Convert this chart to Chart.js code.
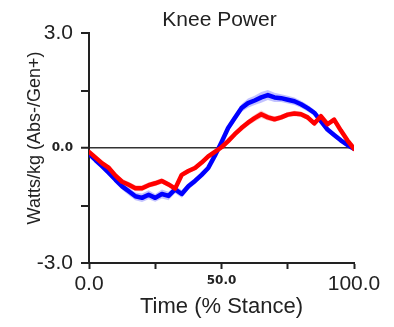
<!DOCTYPE html>
<html>
<head>
<meta charset="utf-8">
<title>Knee Power</title>
<script src="https://cdn.jsdelivr.net/npm/chart.js@4.4.1/dist/chart.umd.min.js"></script>
<style>
  html, body { margin: 0; padding: 0; background: #fff; }
  #wrap { width: 394px; height: 327px; }
</style>
</head>
<body>
<div id="wrap"><canvas id="knee" width="394" height="327"></canvas></div>
<script>
// % stance, sampled every 2.5%
const stance = [0, 2.5, 5, 7.5, 10, 12.5, 15, 17.5, 20, 22.5, 25, 27.5, 30, 32.5, 35, 37.5, 40,
  42.5, 45, 47.5, 50, 52.5, 55, 57.5, 60, 62.5, 65, 67.5, 70, 72.5, 75, 77.5, 80, 82.5, 85,
  87.5, 90, 92.5, 95, 97.5, 100];

// mean knee power, W/kg
const bluePower = [-0.15, -0.32, -0.48, -0.65, -0.83, -1.0, -1.13, -1.26, -1.3, -1.22, -1.3,
  -1.2, -1.25, -1.08, -1.2, -1.0, -0.86, -0.7, -0.52, -0.2, 0.15, 0.52, 0.78, 1.04, 1.17, 1.24,
  1.32, 1.38, 1.32, 1.3, 1.26, 1.22, 1.14, 1.04, 0.92, 0.7, 0.48, 0.34, 0.2, 0.08, -0.02];
const redPower = [-0.1, -0.25, -0.4, -0.52, -0.72, -0.88, -0.96, -1.05, -1.05, -0.97, -0.92,
  -0.86, -0.95, -1.06, -0.7, -0.6, -0.52, -0.38, -0.22, -0.1, 0.02, 0.18, 0.36, 0.52, 0.66, 0.78,
  0.88, 0.8, 0.75, 0.8, 0.87, 0.9, 0.88, 0.8, 0.64, 0.83, 0.62, 0.74, 0.46, 0.2, -0.02];

// spread around each mean (shaded band)
const blueSpread = [0.03, 0.05, 0.06, 0.07, 0.08, 0.09, 0.1, 0.1, 0.11, 0.12, 0.1, 0.12, 0.11,
  0.1, 0.1, 0.09, 0.08, 0.08, 0.07, 0.07, 0.07, 0.08, 0.09, 0.1, 0.12, 0.12, 0.14, 0.13, 0.12,
  0.1, 0.1, 0.1, 0.09, 0.09, 0.08, 0.08, 0.07, 0.06, 0.05, 0.04, 0.02];
const redSpread = [0.04, 0.05, 0.05, 0.06, 0.07, 0.07, 0.08, 0.08, 0.08, 0.07, 0.07, 0.07, 0.07,
  0.07, 0.07, 0.06, 0.06, 0.06, 0.06, 0.06, 0.06, 0.07, 0.07, 0.08, 0.08, 0.09, 0.1, 0.08, 0.07,
  0.07, 0.07, 0.07, 0.07, 0.07, 0.07, 0.07, 0.07, 0.06, 0.05, 0.04, 0.03];

const yTicksLabelled = { "3": "3.0", "0": "0.0", "-3": "-3.0" };
const xTicksLabelled = { "0": "0.0", "50": "50.0", "100": "100.0" };

const chartTitle = "Knee Power";
const yTitle = "Watts/kg (Abs-/Gen+)";

const pts = (vals) => vals.map((v, i) => ({ x: stance[i], y: v }));
const band = (vals, sd, sign) => vals.map((v, i) => ({ x: stance[i], y: v + sign * sd[i] }));

const sans = "'Liberation Sans', Arial, sans-serif";
const bigFont = { family: sans, size: 21 };
const smallFont = { family: "'DejaVu Sans', sans-serif", size: 12, weight: "bold", lineHeight: 1.4 };

const lineDs = (label, data, color, order) => ({
  label, data, borderColor: color, borderWidth: 4.5, pointRadius: 0, fill: false, order,
  borderJoinStyle: "round", borderCapStyle: "round"
});
const bandDs = (label, data, fill, color, order) => ({
  label, data, borderWidth: 0, pointRadius: 0, fill, backgroundColor: color, order
});

// chart title centred over the plot, y title centred on its text column
const titles = {
  id: "titles",
  afterDraw(chart) {
    const { ctx, chartArea } = chart;
    ctx.save();
    ctx.fillStyle = "#222";
    ctx.textAlign = "center";
    ctx.textBaseline = "middle";
    ctx.font = `21px ${sans}`;
    ctx.fillText(chartTitle, (chartArea.left + chartArea.right) / 2 - 2, 20);
    ctx.translate(35, 138);
    ctx.rotate(-Math.PI / 2);
    ctx.font = `18px ${sans}`;
    ctx.fillText(yTitle, 0, 0);
    ctx.restore();
  }
};

new Chart(document.getElementById("knee").getContext("2d"), {
  type: "line",
  data: {
    datasets: [
      lineDs("Red", pts(redPower), "#ff0000", 0),
      lineDs("Blue", pts(bluePower), "#0000ff", 1),
      bandDs("Red hi", band(redPower, redSpread, 1), "+1", "rgba(255,120,120,0.45)", 2),
      bandDs("Red lo", band(redPower, redSpread, -1), false, "transparent", 3),
      bandDs("Blue hi", band(bluePower, blueSpread, 1), "+1", "rgba(120,120,255,0.45)", 4),
      bandDs("Blue lo", band(bluePower, blueSpread, -1), false, "transparent", 5)
    ]
  },
  plugins: [titles],
  options: {
    responsive: false,
    animation: false,
    layout: { padding: { top: 33, right: 40 } },
    plugins: {
      legend: { display: false },
      tooltip: { enabled: false },
      title: { display: false }
    },
    scales: {
      x: {
        type: "linear", min: 0, max: 100,
        afterFit: s => { s.height = 64; },
        border: { display: true, color: "#222", width: 2 },
        grid: { drawOnChartArea: false, tickLength: 6, tickColor: "#222", tickWidth: 2 },
        ticks: {
          stepSize: 25, color: "#222", padding: 3, maxRotation: 0,
          callback: v => xTicksLabelled[String(v)] || "",
          font: c => (c.tick && c.tick.value === 50 ? smallFont : bigFont)
        },
        title: {
          display: true, text: "Time (% Stance)", color: "#222",
          font: { family: sans, size: 22 },
          padding: { top: 0, bottom: 7 }
        }
      },
      y: {
        min: -3, max: 3,
        afterFit: s => { s.width = 89; },
        border: { display: true, color: "#222", width: 2 },
        grid: {
          drawOnChartArea: true, tickLength: 8, tickColor: "#222", tickWidth: 2,
          color: c => (c.tick && c.tick.value === 0 ? "#333" : "transparent"),
          lineWidth: c => (c.tick && c.tick.value === 0 ? 1.5 : 0)
        },
        ticks: {
          stepSize: 1.5, color: "#222", padding: 8,
          callback: v => yTicksLabelled[String(v)] || "",
          font: c => (c.tick && c.tick.value === 0 ? smallFont : bigFont)
        }
      }
    }
  }
});
</script>
</body>
</html>
